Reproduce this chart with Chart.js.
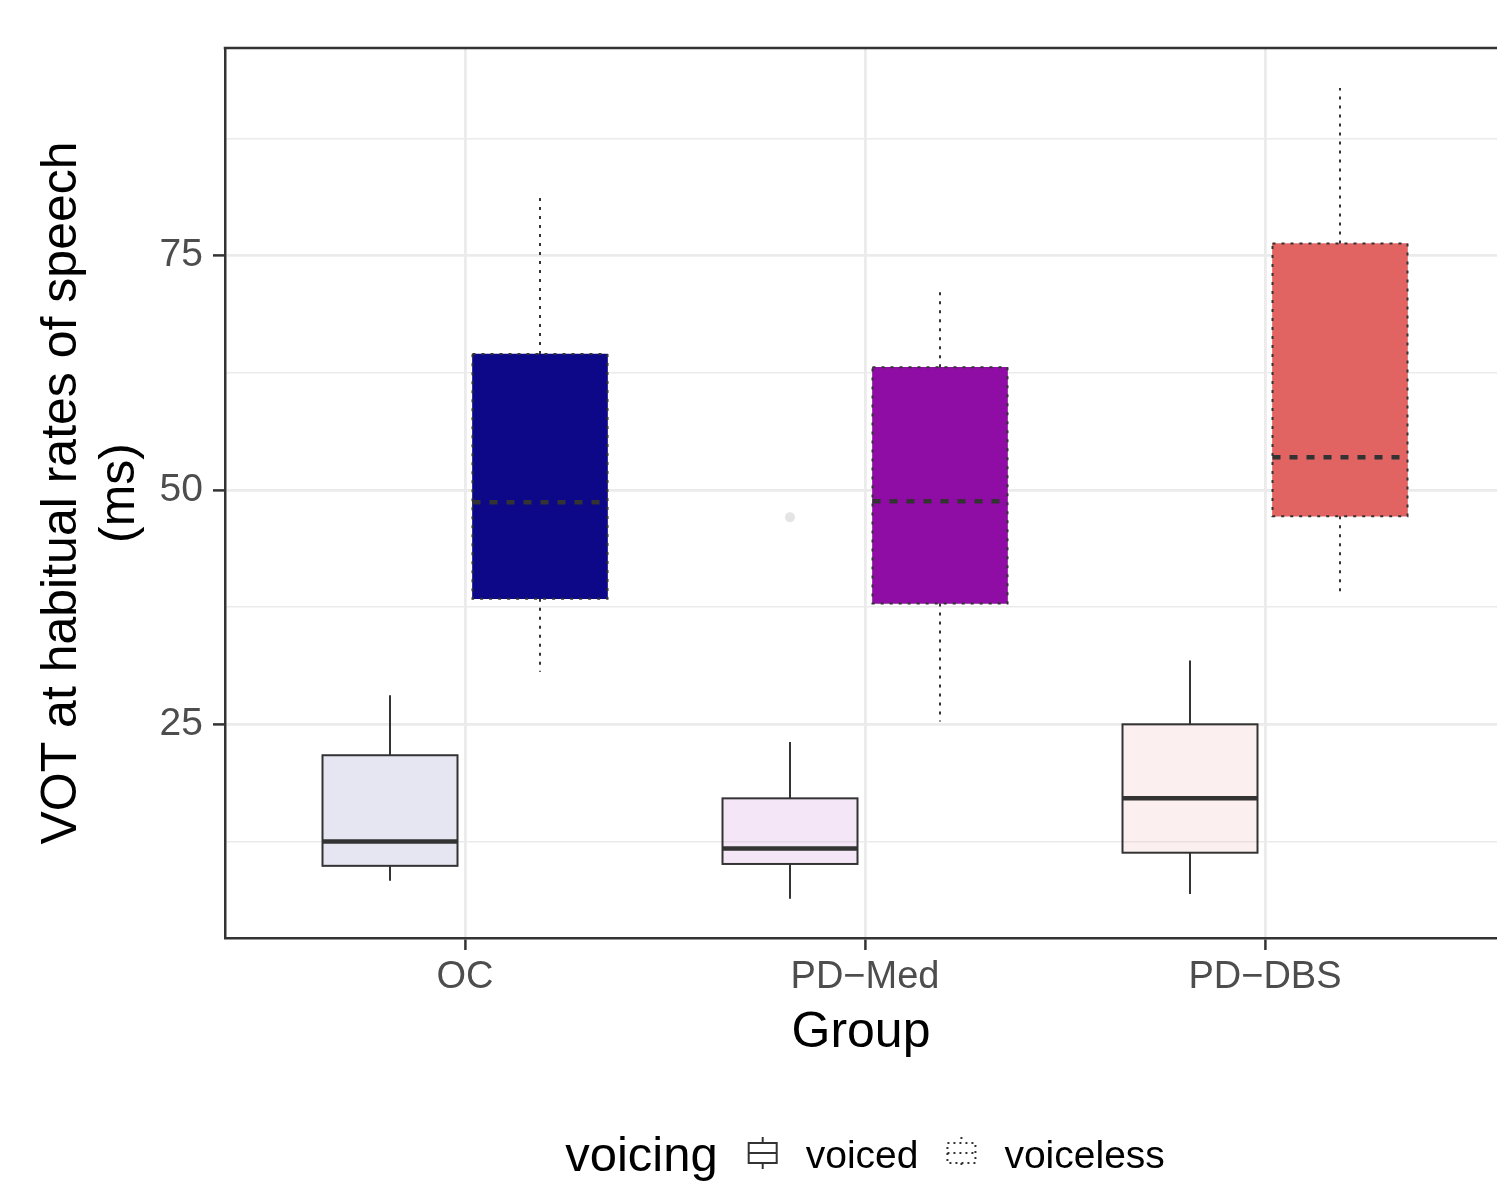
<!DOCTYPE html>
<html>
<head>
<meta charset="utf-8">
<script src="https://cdn.jsdelivr.net/npm/chart.js@4/dist/chart.umd.min.js"></script>
<style>
html,body{margin:0;padding:0;background:#ffffff;}
#wrap{width:1497px;height:1184px;}
</style>
</head>
<body>
<div id="wrap"><canvas id="c" width="1497" height="1184"></canvas></div>
<script>
// ---------- data ----------
const groups = ['OC', 'PD\u2212Med', 'PD\u2212DBS'];
const voicingLevels = ['voiced', 'voiceless'];

const voicedMin = [8.3, 6.4, 6.9];
const voicedQ1 = [9.9, 10.1, 11.3];
const voicedMedian = [12.5, 11.75, 17.1];
const voicedQ3 = [21.7, 17.1, 25.0];
const voicedMax = [28.1, 23.1, 31.8];

const voicelessMin = [30.6, 25.3, 39.1];
const voicelessQ1 = [38.4, 37.9, 47.2];
const voicelessMedian = [48.7, 48.8, 53.5];
const voicelessQ3 = [64.5, 63.1, 76.3];
const voicelessMax = [81.3, 71.5, 92.9];

const outlierGroup = [1];          // index into groups (PD-Med, voiced)
const outlierValue = [47.1];

const yMajorTicks = [25, 50, 75];
const yMinorTicks = [12.5, 37.5, 62.5, 87.5];

const groupColors = ['#0D0887', '#8F0DA4', '#E16462'];
const voicedFills = ['rgba(13,8,135,0.1)', 'rgba(143,13,164,0.1)', 'rgba(225,100,98,0.1)'];

// ---------- layout constants ----------
const FONT = "'Liberation Sans', Arial, Helvetica, sans-serif";
const DODGE = 0.1875;
const BOX_PX = 135;
const INK = '#333333';

function boxData(q1, q3, sign) {
  return groups.map((g, i) => ({ x: i + 1 + sign * DODGE, y: [q1[i], q3[i]] }));
}

const boxPlugin = {
  id: 'boxes',
  afterDatasetsDraw(chart) {
    const ctx = chart.ctx, ys = chart.scales.y;
    const line = (x1, y1, x2, y2) => { ctx.beginPath(); ctx.moveTo(x1, y1); ctx.lineTo(x2, y2); ctx.stroke(); };
    chart.data.datasets.forEach((ds, di) => {
      if (!ds.stats) return;
      const meta = chart.getDatasetMeta(di);
      meta.data.forEach((bar, i) => {
        const s = ds.stats;
        const x = bar.x, hw = bar.width / 2;
        const pMin = ys.getPixelForValue(s.min[i]);
        const pQ1 = ys.getPixelForValue(s.q1[i]);
        const pMed = ys.getPixelForValue(s.med[i]);
        const pQ3 = ys.getPixelForValue(s.q3[i]);
        const pMax = ys.getPixelForValue(s.max[i]);
        ctx.save();
        ctx.strokeStyle = INK;
        ctx.lineWidth = 2;
        ctx.lineCap = 'butt';
        ctx.setLineDash(ds.lineDash);
        line(x, pQ3, x, pMax);
        line(x, pQ1, x, pMin);
        ctx.strokeRect(x - hw, pQ3, 2 * hw, pQ1 - pQ3);
        ctx.lineWidth = 4.5;
        ctx.setLineDash(ds.medianDash);
        line(x - hw, pMed, x + hw, pMed);
        ctx.restore();
      });
    });
  },
  afterDraw(chart) {
    const ctx = chart.ctx, a = chart.chartArea;
    ctx.save();
    // top panel border
    ctx.strokeStyle = INK;
    ctx.lineWidth = 2.5;
    ctx.beginPath(); ctx.moveTo(a.left - 1.25, a.top); ctx.lineTo(chart.width, a.top); ctx.stroke();

    // legend
    const cx = chart.scales.x.getPixelForValue(2);
    const baseY = 1167;
    ctx.textBaseline = 'alphabetic';
    ctx.textAlign = 'left';
    ctx.fillStyle = '#000000';
    ctx.font = '49px ' + FONT;
    const titleW = ctx.measureText('voicing').width;
    ctx.font = '39px ' + FONT;
    const lw = voicingLevels.map(t => ctx.measureText(t).width);
    const keyW = 30, gapKey = 28, gapItem = 28, gapTitle = 30;
    const total = titleW + gapTitle + keyW + gapKey + lw[0] + gapItem + keyW + gapKey + lw[1];
    let x = cx - total / 2;
    ctx.font = '49px ' + FONT;
    ctx.fillText('voicing', x, baseY + 4);
    x += titleW + gapTitle;
    voicingLevels.forEach((t, k) => {
      const kx = x + keyW / 2;
      ctx.save();
      ctx.strokeStyle = INK;
      ctx.lineWidth = 2;
      ctx.setLineDash(k === 0 ? [] : [2, 4]);
      ctx.beginPath(); ctx.moveTo(kx, 1137); ctx.lineTo(kx, 1143); ctx.stroke();
      ctx.beginPath(); ctx.moveTo(kx, 1163); ctx.lineTo(kx, 1169); ctx.stroke();
      ctx.strokeRect(x + 1, 1143, keyW - 2, 20);
      ctx.beginPath(); ctx.moveTo(x + 1, 1153); ctx.lineTo(x + keyW - 1, 1153); ctx.stroke();
      ctx.restore();
      x += keyW + gapKey;
      ctx.font = '39px ' + FONT;
      ctx.fillStyle = '#000000';
      ctx.fillText(t, x, baseY + 1);
      x += lw[k] + gapItem;
    });
    ctx.restore();
  }
};

const isMajorY = v => yMajorTicks.some(t => Math.abs(t - v) < 1e-6);

new Chart(document.getElementById('c'), {
  type: 'bar',
  data: {
    datasets: [
      {
        label: voicingLevels[0],
        data: boxData(voicedQ1, voicedQ3, -1),
        backgroundColor: voicedFills,
        borderWidth: 0,
        barThickness: BOX_PX,
        grouped: false,
        stats: { min: voicedMin, q1: voicedQ1, med: voicedMedian, q3: voicedQ3, max: voicedMax },
        lineDash: [],
        medianDash: [],
        order: 2
      },
      {
        label: voicingLevels[1],
        data: boxData(voicelessQ1, voicelessQ3, 1),
        backgroundColor: groupColors,
        borderWidth: 0,
        barThickness: BOX_PX,
        grouped: false,
        stats: { min: voicelessMin, q1: voicelessQ1, med: voicelessMedian, q3: voicelessQ3, max: voicelessMax },
        lineDash: [3, 6],
        medianDash: [8, 9],
        order: 2
      },
      {
        type: 'scatter',
        label: 'outliers',
        data: outlierGroup.map((g, k) => ({ x: g + 1 - DODGE, y: outlierValue[k] })),
        pointRadius: 5,
        pointBackgroundColor: '#E4E4E4',
        pointBorderWidth: 0,
        order: 1
      }
    ]
  },
  options: {
    responsive: false,
    animation: false,
    devicePixelRatio: 1,
    layout: { autoPadding: false, padding: { left: 0, top: 48, right: 0, bottom: 122 } },
    plugins: { legend: { display: false }, tooltip: { enabled: false } },
    scales: {
      x: {
        type: 'linear',
        min: 0.4,
        max: 3.58,
        offset: false,
        afterBuildTicks: s => { s.ticks = groups.map((g, i) => ({ value: i + 1 })); },
        afterFit: s => { s.height = 124; s.paddingLeft = 0; s.paddingRight = 0; },
        ticks: {
          callback: v => groups[Math.round(v) - 1] || '',
          color: '#4D4D4D',
          font: { family: FONT, size: 38 },
          padding: 5,
          maxRotation: 0,
          autoSkip: false
        },
        grid: {
          offset: false,
          color: '#EBEBEB',
          lineWidth: 2.8,
          tickLength: 12,
          tickColor: INK,
          tickWidth: 2.5
        },
        border: { display: true, color: INK, width: 2.5 },
        title: {
          display: true,
          text: 'Group',
          color: '#000000',
          font: { family: FONT, size: 50, lineHeight: 1.15 },
          padding: { top: 0, bottom: 0 }
        }
      },
      y: {
        type: 'linear',
        min: 2.2,
        max: 97.16,
        afterBuildTicks: s => {
          s.ticks = yMinorTicks.concat(yMajorTicks).sort((a, b) => a - b).map(v => ({ value: v }));
        },
        afterFit: s => { s.width = 225; },
        ticks: {
          callback: v => (isMajorY(v) ? String(v) : ''),
          color: '#4D4D4D',
          font: { family: FONT, size: 39 },
          padding: 10,
          autoSkip: false
        },
        grid: {
          color: '#EBEBEB',
          lineWidth: c => (c.tick && isMajorY(c.tick.value) ? 2.8 : 1.4),
          tickLength: 12,
          tickColor: c => (c.tick && isMajorY(c.tick.value) ? INK : 'rgba(0,0,0,0)'),
          tickWidth: 2.5
        },
        border: { display: true, color: INK, width: 2.5 },
        title: {
          display: true,
          text: ['VOT at habitual rates of speech', '(ms)'],
          color: '#000000',
          font: { family: FONT, size: 50, lineHeight: 1.16 },
          padding: { top: 33, bottom: 0 }
        }
      }
    }
  },
  plugins: [boxPlugin]
});
</script>
</body>
</html>
